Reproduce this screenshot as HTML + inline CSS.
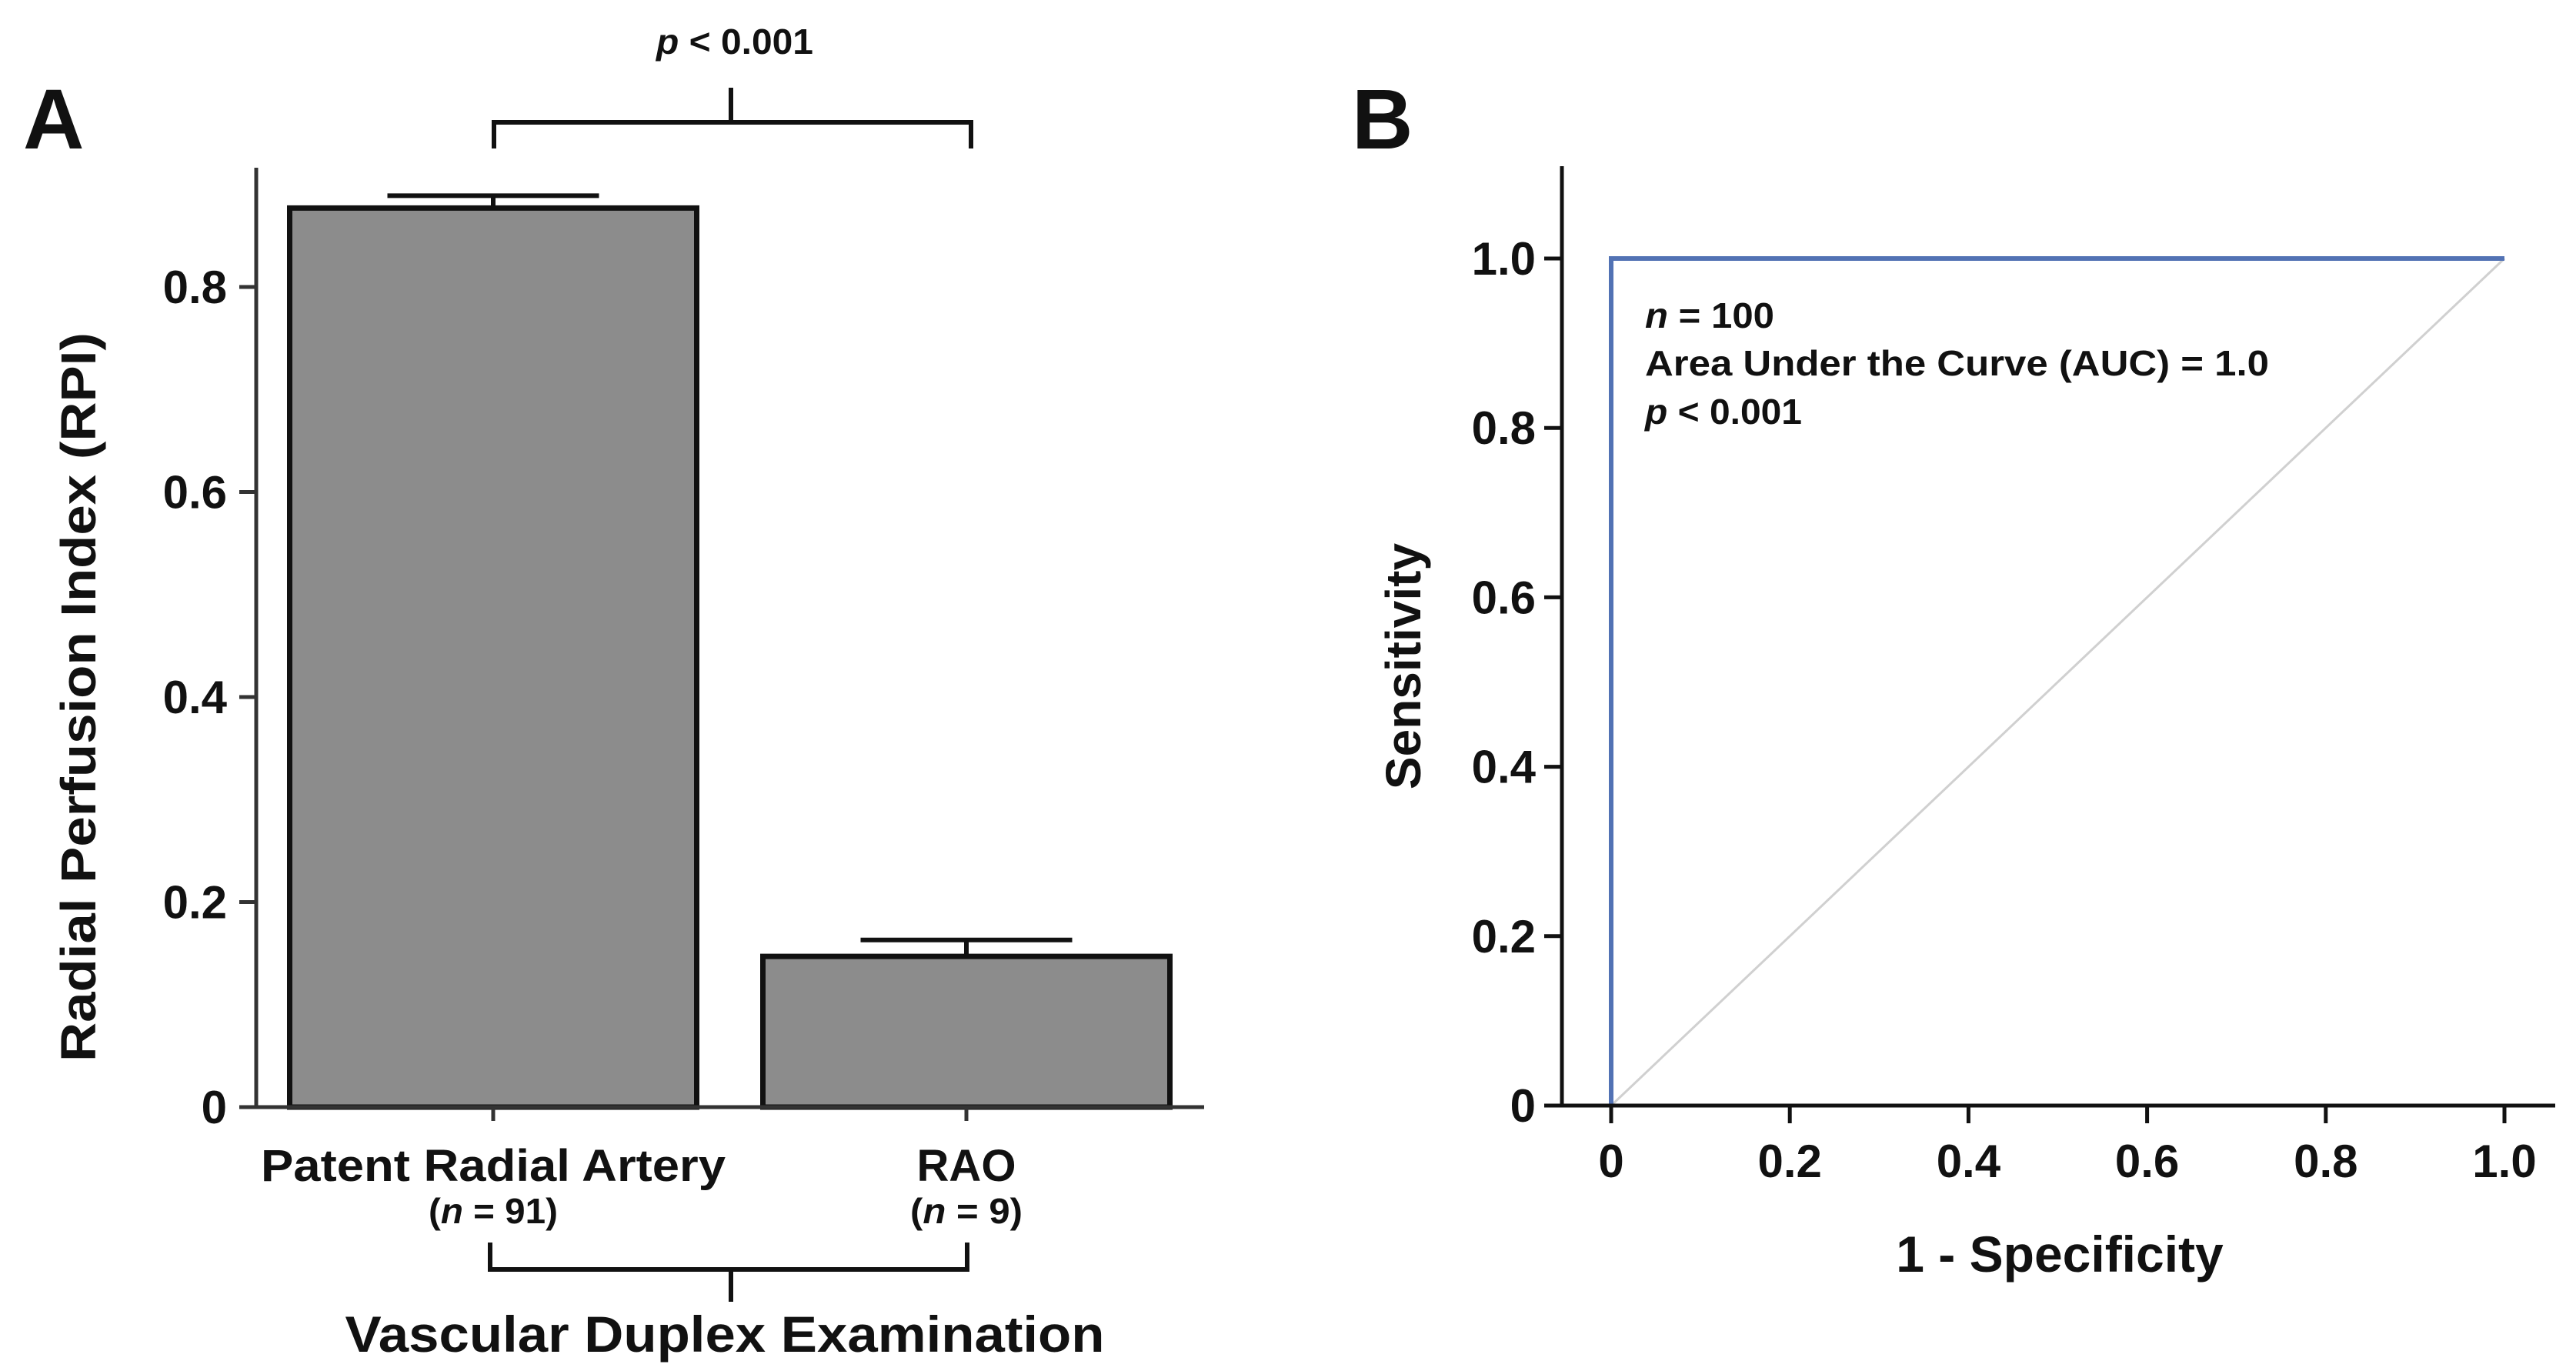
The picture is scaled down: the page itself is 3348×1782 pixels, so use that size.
<!DOCTYPE html>
<html>
<head>
<meta charset="utf-8">
<style>
html,body{margin:0;padding:0;background:#fff;}
svg{display:block;}
text{font-family:"Liberation Sans",Arial,sans-serif;fill:#111;}
</style>
</head>
<body>
<svg id="fig" width="3348" height="1782" viewBox="0 0 3348 1782" xmlns="http://www.w3.org/2000/svg">
  <rect x="0" y="0" width="3348" height="1782" fill="#fff"/>
  <g id="panelA"></g>
  <g id="panelB"></g>
</svg>
<script>
// ---------- Panel A data ----------
const barCategories = ["Patent Radial Artery", "RAO"];
const barSampleSizes = ["91", "9"];
const barValues = [0.877, 0.147];
const barErrors = [0.012, 0.016];
const barYTicks = [0, 0.2, 0.4, 0.6, 0.8];
const barYTickLabels = ["0", "0.2", "0.4", "0.6", "0.8"];

// ---------- Panel B data ----------
const rocFpr = [0, 0, 1];
const rocTpr = [0, 1, 1];
const refFpr = [0, 1];
const refTpr = [0, 1];
const rocTicks = [0, 0.2, 0.4, 0.6, 0.8, 1.0];
const rocXTickLabels = ["0", "0.2", "0.4", "0.6", "0.8", "1.0"];
const rocYTickLabels = ["0", "0.2", "0.4", "0.6", "0.8", "1.0"];

const NS = "http://www.w3.org/2000/svg";
function mk(parent, tag, attrs, text) {
  const e = document.createElementNS(NS, tag);
  for (const k in attrs) e.setAttribute(k, attrs[k]);
  if (text !== undefined) e.textContent = text;
  parent.appendChild(e);
  return e;
}

// ===== Panel A =====
(function () {
  const g = document.getElementById("panelA");
  const y0 = 1439, pxPerUnit = 1332.5;
  const yA = v => y0 - v * pxPerUnit;
  const centers = [641, 1256];
  const barW = 529, capW = 275;
  const xA = i => centers[i];

  let t = mk(g, "text", {x: 30, y: 193, "font-size": 110, "font-weight": "bold"}, "A");
  
  

  barValues.forEach((v, i) => {
    const eb = mk(g, "path", {d: `M${xA(i)} ${yA(v)} V${yA(v + barErrors[i])} M${xA(i) - capW / 2} ${yA(v + barErrors[i])} H${xA(i) + capW / 2}`, stroke: "#111", "stroke-width": 6, fill: "none"});
    
    
    const r = mk(g, "rect", {x: xA(i) - barW / 2, y: yA(v), width: barW, height: y0 - yA(v), fill: "#8c8c8c", stroke: "#111", "stroke-width": 7});
    
    
  });

  const ax = mk(g, "path", {d: `M333 218 V${y0} M311 ${y0} H1565`, stroke: "#333", "stroke-width": 5, fill: "none"});
  
  

  barYTicks.forEach((v, i) => {
    const tk = mk(g, "line", {x1: 311, x2: 333, y1: yA(v), y2: yA(v), stroke: "#333", "stroke-width": 5});
    
    
    const tl = mk(g, "text", {x: 295, y: yA(v) + 21, "font-size": 60, "font-weight": "bold", "text-anchor": "end"}, barYTickLabels[i]);
    
    
  });

  const nWidths = [168, 146];
  barCategories.forEach((c, i) => {
    const tk = mk(g, "line", {x1: xA(i), x2: xA(i), y1: y0, y2: 1457, stroke: "#333", "stroke-width": 5});
    
    
    const attrs = {x: xA(i), y: 1535, "font-size": 58, "font-weight": "bold", "text-anchor": "middle"};
    if (i === 0) { attrs.textLength = 604; attrs.lengthAdjust = "spacingAndGlyphs"; }
    const cl = mk(g, "text", attrs, c);
    
    
    const nl = mk(g, "text", {x: xA(i), y: 1590, "font-size": 46, "font-weight": "bold", "text-anchor": "middle", textLength: nWidths[i], lengthAdjust: "spacingAndGlyphs"});
    
    
    mk(nl, "tspan", {}, "(");
    mk(nl, "tspan", {"font-style": "italic"}, "n");
    mk(nl, "tspan", {}, " = " + barSampleSizes[i] + ")");
  });

  const yt = mk(g, "text", {x: 0, y: 0, "font-size": 64, "font-weight": "bold", "text-anchor": "middle", transform: "translate(124 906) rotate(-90)", textLength: 948, lengthAdjust: "spacingAndGlyphs"}, "Radial Perfusion Index (RPI)");
  
  

  const tb = mk(g, "path", {d: "M642 193 V159 H1262 V193 M950 159 V114", stroke: "#111", "stroke-width": 6, fill: "none"});
  
  
  const pv = mk(g, "text", {x: 853, y: 70, "font-size": 46, "font-weight": "bold", textLength: 204, lengthAdjust: "spacingAndGlyphs"});
  
  
  mk(pv, "tspan", {"font-style": "italic"}, "p");
  mk(pv, "tspan", {}, " < 0.001");

  const bb = mk(g, "path", {d: "M637 1615 V1650 H1257 V1615 M950 1650 V1692", stroke: "#111", "stroke-width": 6, fill: "none"});
  
  
  const xt = mk(g, "text", {x: 942, y: 1757, "font-size": 66, "font-weight": "bold", "text-anchor": "middle", textLength: 987, lengthAdjust: "spacingAndGlyphs"}, "Vascular Duplex Examination");
  
  
})();

// ===== Panel B =====
(function () {
  const g = document.getElementById("panelB");
  const x0 = 2094, x1 = 3255, y0 = 1437, y1 = 336;
  const xB = v => x0 + v * (x1 - x0);
  const yB = v => y0 - v * (y0 - y1);

  let t = mk(g, "text", {x: 1757, y: 193, "font-size": 110, "font-weight": "bold"}, "B");
  
  

  const ref = mk(g, "polyline", {points: refFpr.map((v, i) => xB(v) + "," + yB(refTpr[i])).join(" "), stroke: "#d0d0d0", "stroke-width": 3, fill: "none"});
  
  

  const roc = mk(g, "polyline", {points: rocFpr.map((v, i) => xB(v) + "," + yB(rocTpr[i])).join(" "), stroke: "#5272b4", "stroke-width": 6, fill: "none"});
  
  

  const ax = mk(g, "path", {d: `M2030 216 V${y0} M2007 ${y0} H3321`, stroke: "#111", "stroke-width": 5, fill: "none"});
  
  

  rocTicks.forEach((v, i) => {
    const ty = mk(g, "line", {x1: 2007, x2: 2030, y1: yB(v), y2: yB(v), stroke: "#111", "stroke-width": 5});
    
    
    const ly = mk(g, "text", {x: 1996, y: yB(v) + 21, "font-size": 60, "font-weight": "bold", "text-anchor": "end"}, rocYTickLabels[i]);
    
    
    const tx = mk(g, "line", {x1: xB(v), x2: xB(v), y1: y0, y2: 1460, stroke: "#111", "stroke-width": 5});
    
    
    const lx = mk(g, "text", {x: xB(v), y: 1530, "font-size": 60, "font-weight": "bold", "text-anchor": "middle"}, rocXTickLabels[i]);
    
    
  });

  const yt = mk(g, "text", {x: 0, y: 0, "font-size": 64, "font-weight": "bold", "text-anchor": "middle", transform: "translate(1846 866) rotate(-90)"}, "Sensitivity");
  
  
  const xt = mk(g, "text", {x: 2677, y: 1653, "font-size": 66, "font-weight": "bold", "text-anchor": "middle"}, "1 - Specificity");
  
  

  const a1 = mk(g, "text", {x: 2138, y: 426, "font-size": 46, "font-weight": "bold", textLength: 168, lengthAdjust: "spacingAndGlyphs"});
  
  
  mk(a1, "tspan", {"font-style": "italic"}, "n");
  mk(a1, "tspan", {}, " = 100");
  const a2 = mk(g, "text", {x: 2138, y: 488, "font-size": 46, "font-weight": "bold", textLength: 811, lengthAdjust: "spacingAndGlyphs"}, "Area Under the Curve (AUC)  = 1.0");
  
  
  const a3 = mk(g, "text", {x: 2138, y: 551, "font-size": 46, "font-weight": "bold", textLength: 204, lengthAdjust: "spacingAndGlyphs"});
  
  
  mk(a3, "tspan", {"font-style": "italic"}, "p");
  mk(a3, "tspan", {}, " < 0.001");
})();
</script>
</body>
</html>
